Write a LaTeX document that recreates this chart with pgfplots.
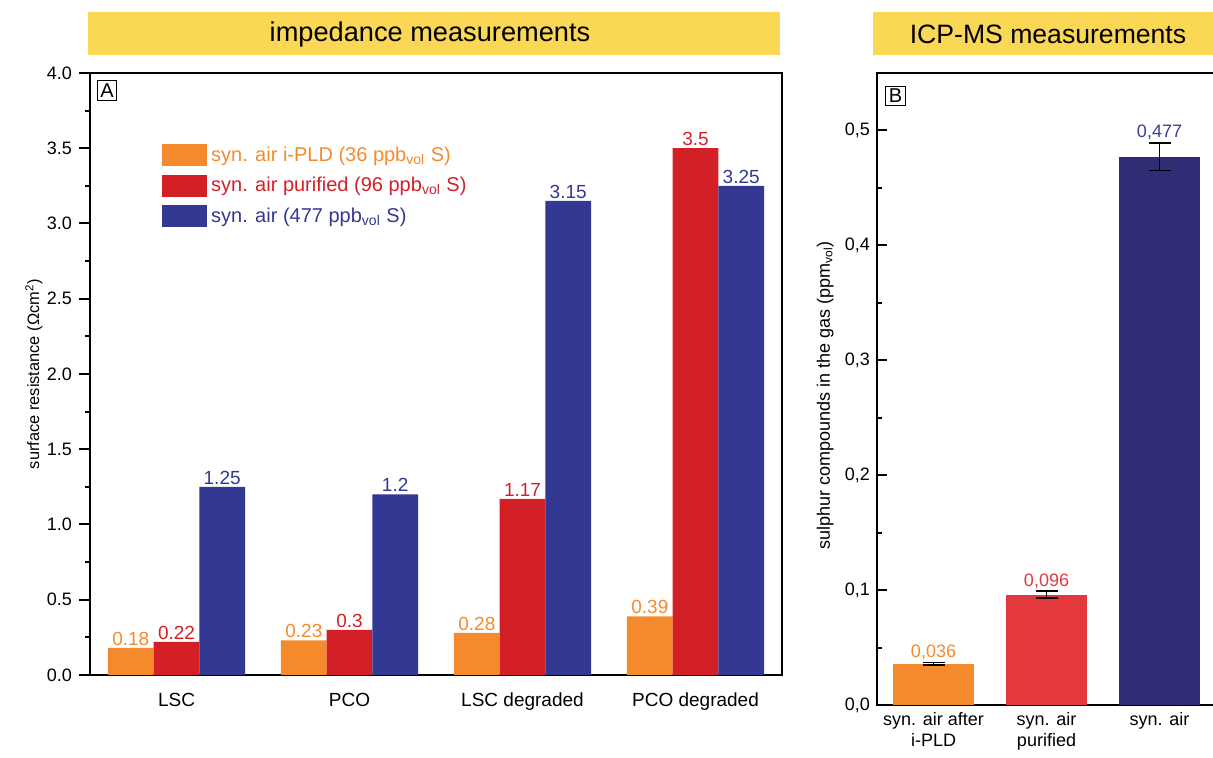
\documentclass[border=0pt]{standalone}
\usepackage{pgfplots}
\pgfplotsset{compat=1.18}
\usepackage{fontspec}
\setmainfont{Liberation Sans}
\definecolor{cOr}{HTML}{F58A2C}
\definecolor{cRd}{HTML}{D32027}
\definecolor{cBl}{HTML}{333893}
\definecolor{cNv}{HTML}{2F2C74}
\definecolor{cYl}{HTML}{FBD756}
\definecolor{cRdL}{HTML}{E2383E}
\definecolor{cBlL}{HTML}{3D3D9A}
\pgfplotsset{/pgf/number format/assume math mode=true}
\begin{document}
\begin{tikzpicture}[x=1pt,y=1pt]
\fill[cYl] (44,351.5) rectangle (390,373);
\node[font=\fontsize{13.6}{15}\selectfont] at (215,362) {impedance measurements};
\fill[cYl] (436.5,351.5) rectangle (620,373);
\node[font=\fontsize{13.3}{15}\selectfont] at (524,362) {ICP-MS measurements};

\begin{axis}[
  at={(45pt,41.5pt)}, anchor=south west,
  width=346pt, height=301pt, scale only axis,
  xmin=-0.5, xmax=3.5, ymin=0, ymax=4,
  ybar=0pt, bar width=0.264,
  xtick={0,1,2,3}, xticklabels={LSC,PCO,LSC degraded,PCO degraded},
  xtick style={draw=none},
  x tick label style={font=\fontsize{9.5}{11}\selectfont, yshift=0pt},
  ytick={0,0.5,1,1.5,2,2.5,3,3.5,4}, minor ytick={0.25,0.75,1.25,1.75,2.25,2.75,3.25,3.75},
  y tick label style={font=\fontsize{9}{11}\selectfont, /pgf/number format/.cd, fixed, fixed zerofill, precision=1},
  ytick pos=left, tick align=outside,
  major tick length=5.5pt, minor tick length=2.5pt,
  every tick/.style={black, line width=1pt},
  axis line style={line width=1pt},
  ylabel={surface resistance (Ωcm\textsuperscript{2})},
  y label style={at={(axis description cs:-0.081,0.5)}, anchor=center, font=\fontsize{8.2}{10}\selectfont},
  nodes near coords,
  every node near coord/.append style={anchor=south, inner sep=1pt, font=\fontsize{9.5}{11}\selectfont},
  legend style={at={(0.095,0.8915)}, anchor=north west, draw=none, fill=none,
    font=\fontsize{10}{12}\selectfont, row sep=2.5pt,
    /tikz/every even column/.append style={column sep=2pt}},
  legend cell align=left,
]
\addplot[fill=cOr, draw=none, every node near coord/.append style={text=cOr},
  legend image code/.code={\fill[cOr] (0pt,-5.5pt) rectangle (22.5pt,5.5pt);}]
  coordinates {(0,0.18) (1,0.23) (2,0.28) (3,0.39)};
\addlegendentry{\textcolor{cOr}{syn. air i-PLD (36 ppb\textsubscript{vol} S)}}
\addplot[fill=cRd, draw=none, every node near coord/.append style={text=cRd},
  legend image code/.code={\fill[cRd] (0pt,-5.5pt) rectangle (22.5pt,5.5pt);}]
  coordinates {(0,0.22) (1,0.3) (2,1.17) (3,3.5)};
\addlegendentry{\textcolor{cRd}{syn. air purified (96 ppb\textsubscript{vol} S)}}
\addplot[fill=cBl, draw=none, every node near coord/.append style={text=cBl},
  legend image code/.code={\fill[cBl] (0pt,-5.5pt) rectangle (22.5pt,5.5pt);}]
  coordinates {(0,1.25) (1,1.2) (2,3.15) (3,3.25)};
\addlegendentry{\textcolor{cBl}{syn. air (477 ppb\textsubscript{vol} S)}}
\node[draw, line width=0.5pt, inner sep=1.5pt, anchor=north west, font=\fontsize{10}{12}\selectfont] at (rel axis cs:0.01,0.988) {A};
\end{axis}

\begin{axis}[
  at={(438.5pt,26.5pt)}, anchor=south west,
  width=169.5pt, height=316pt, scale only axis,
  xmin=-0.5, xmax=2.5, ymin=0, ymax=0.55,
  ybar, bar width=0.72,
  xtick={0,1,2}, xticklabels={{syn. air after\\i-PLD},{syn. air\\purified},{syn. air}},
  xtick style={draw=none},
  x tick label style={font=\fontsize{9}{10.5}\selectfont, align=center, anchor=north},
  ytick={0,0.1,0.2,0.3,0.4,0.5}, minor ytick={0.05,0.15,0.25,0.35,0.45},
  y tick label style={font=\fontsize{9}{11}\selectfont, /pgf/number format/.cd, fixed, fixed zerofill, precision=1, use comma},
  ytick pos=left, tick align=inside,
  major tick length=5pt, minor tick length=2.5pt,
  every tick/.style={black, line width=1pt},
  axis line style={line width=1pt},
  ylabel={sulphur compounds in the gas (ppm\textsubscript{vol})},
  y label style={at={(axis description cs:-0.153,0.49)}, anchor=center, font=\fontsize{9}{10}\selectfont},
  nodes near coords,
  nodes near coords={\pgfmathprintnumber[fixed, fixed zerofill, precision=3, use comma]{\pgfplotspointmeta}},
  every node near coord/.append style={anchor=south, inner sep=1pt, font=\fontsize{9}{11}\selectfont},
  error bars/error bar style={black, line width=0.8pt},
  error bars/error mark options={black, line width=0.8pt, mark size=5.5pt, rotate=90},
]
\addplot[fill=cOr, draw=none, bar shift=0pt, every node near coord/.append style={text=cOr, yshift=0.8pt},
  error bars/.cd, y dir=both, y explicit]
  coordinates {(0,0.036) +- (0,0.001)};
\addplot[fill=cRdL, draw=none, bar shift=0pt, every node near coord/.append style={text=cRdL, yshift=1.5pt},
  error bars/.cd, y dir=both, y explicit]
  coordinates {(1,0.096) +- (0,0.003)};
\addplot[fill=cNv, draw=none, bar shift=0pt, every node near coord/.append style={text=cBlL, yshift=7.5pt},
  error bars/.cd, y dir=both, y explicit]
  coordinates {(2,0.477) +- (0,0.012)};
\node[draw, line width=0.5pt, inner sep=1.5pt, anchor=north west, font=\fontsize{10}{12}\selectfont] at (rel axis cs:0.025,0.98) {B};
\end{axis}
\pgfresetboundingbox
\path (0,0) rectangle (606.5,379);
\end{tikzpicture}
\end{document}
